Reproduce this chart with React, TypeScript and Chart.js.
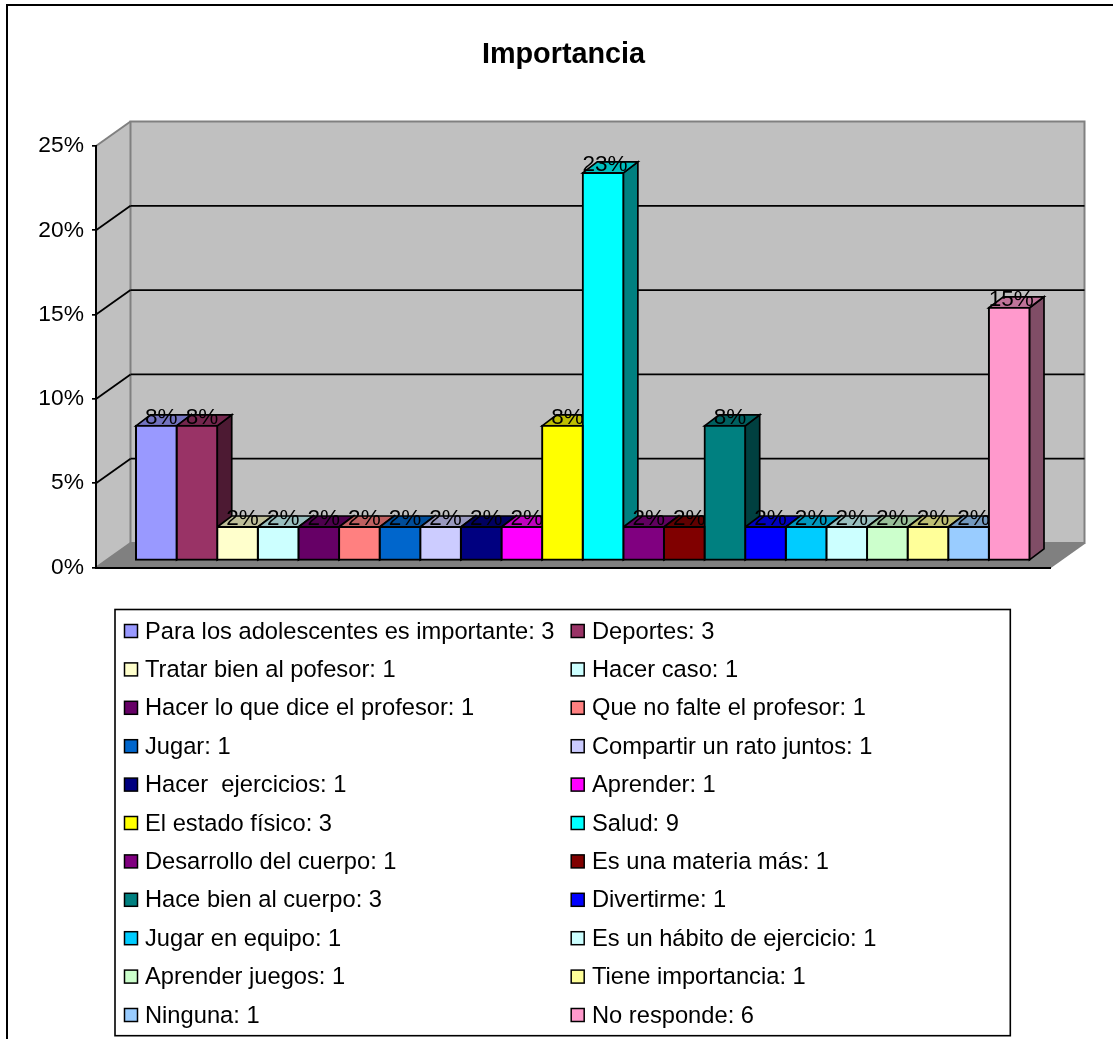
import React, { useEffect, useRef } from "react";
import { Chart, registerables } from "chart.js";

Chart.register(...registerables);

const chartTitle = "Importancia";
const category = ["Importancia"];
const seriesNames = [
  "Para los adolescentes es importante", "Deportes", "Tratar bien al pofesor", "Hacer caso",
  "Hacer lo que dice el profesor", "Que no falte el profesor", "Jugar", "Compartir un rato juntos",
  "Hacer  ejercicios", "Aprender", "El estado físico", "Salud",
  "Desarrollo del cuerpo", "Es una materia más", "Hace bien al cuerpo", "Divertirme",
  "Jugar en equipo", "Es un hábito de ejercicio", "Aprender juegos", "Tiene importancia",
  "Ninguna", "No responde",
];
const seriesCounts = [3, 3, 1, 1, 1, 1, 1, 1, 1, 1, 3, 9, 1, 1, 3, 1, 1, 1, 1, 1, 1, 6];
const seriesPercents = [8, 8, 2, 2, 2, 2, 2, 2, 2, 2, 8, 23, 2, 2, 8, 2, 2, 2, 2, 2, 2, 15];
const seriesColors = [
  "#9999FF", "#993366", "#FFFFCC", "#CCFFFF", "#660066", "#FF8080", "#0066CC", "#CCCCFF",
  "#000080", "#FF00FF", "#FFFF00", "#00FFFF", "#800080", "#800000", "#008080", "#0000FF",
  "#00CCFF", "#CCFFFF", "#CCFFCC", "#FFFF99", "#99CCFF", "#FF99CC",
];

const FONT = '"Liberation Sans", Arial, sans-serif';
const WALL_DX = 34.5;
const WALL_DY = -24.5;
const BAR_DX = 14.5;
const BAR_DY = -11;
const FRONT_DX = 9.75;
const FRONT_DY = -6.8;
const SLOT = 893.5 / 22;

function shade(hex: string, k: number) {
  const n = parseInt(hex.slice(1), 16);
  const r = Math.round(((n >> 16) & 255) * k);
  const g = Math.round(((n >> 8) & 255) * k);
  const b = Math.round((n & 255) * k);
  return `rgb(${r},${g},${b})`;
}

function poly(ctx: CanvasRenderingContext2D, pts: number[][], fill: string | null, stroke: string | null, lw = 1.7) {
  ctx.beginPath();
  pts.forEach((p, i) => (i ? ctx.lineTo(p[0], p[1]) : ctx.moveTo(p[0], p[1])));
  ctx.closePath();
  if (fill) {
    ctx.fillStyle = fill;
    ctx.fill();
  }
  if (stroke) {
    ctx.strokeStyle = stroke;
    ctx.lineWidth = lw;
    ctx.lineJoin = "miter";
    ctx.stroke();
  }
}

function line(ctx: CanvasRenderingContext2D, x1: number, y1: number, x2: number, y2: number, color: string, lw: number) {
  ctx.beginPath();
  ctx.moveTo(x1, y1);
  ctx.lineTo(x2, y2);
  ctx.strokeStyle = color;
  ctx.lineWidth = lw;
  ctx.stroke();
}

const scenePlugin = {
  id: "scene3d",
  beforeDraw(chart: any) {
    const { ctx, chartArea: a, scales } = chart;
    const W = chart.width;
    const H = chart.height;
    ctx.save();
    ctx.fillStyle = "#fff";
    ctx.fillRect(0, 0, W, H);

    // outer frame: only its left and top edges fall inside the picture
    ctx.beginPath();
    ctx.moveTo(7, H);
    ctx.lineTo(7, 5);
    ctx.lineTo(W, 5);
    ctx.strokeStyle = "#000";
    ctx.lineWidth = 2;
    ctx.stroke();

    const l = a.left, r = a.right, t = a.top, b = a.bottom;
    // floor
    poly(ctx, [[l, b], [l + WALL_DX, b + WALL_DY], [r + WALL_DX, b + WALL_DY], [r, b]], "#808080", null);
    // side wall
    poly(ctx, [[l, t], [l + WALL_DX, t + WALL_DY], [l + WALL_DX, b + WALL_DY], [l, b]], "#C0C0C0", null);
    // back wall
    poly(ctx, [[l + WALL_DX, t + WALL_DY], [r + WALL_DX, t + WALL_DY], [r + WALL_DX, b + WALL_DY], [l + WALL_DX, b + WALL_DY]], "#C0C0C0", "#808080", 2);
    line(ctx, l, t, l + WALL_DX, t + WALL_DY, "#808080", 2);
    line(ctx, l, b, l + WALL_DX, b + WALL_DY, "#808080", 2);
    line(ctx, r, b, r + WALL_DX, b + WALL_DY, "#808080", 2);

    // grid lines on the walls
    scales.y.ticks.forEach((tick: any) => {
      if (tick.value === 0 || tick.value === 25) return;
      const y = scales.y.getPixelForValue(tick.value);
      line(ctx, l, y, l + WALL_DX, y + WALL_DY, "#000", 1.8);
      line(ctx, l + WALL_DX, y + WALL_DY, r + WALL_DX, y + WALL_DY, "#000", 1.8);
    });
    ctx.restore();
  },
  beforeDatasetsDraw(chart: any) {
    const { ctx } = chart;
    ctx.save();
    chart.data.datasets.forEach((ds: any, i: number) => {
      const el = chart.getDatasetMeta(i).data[0];
      const x0 = el.x - SLOT / 2 + FRONT_DX;
      const x1 = el.x + SLOT / 2 + FRONT_DX;
      const top = el.y + FRONT_DY;
      const base = el.base + FRONT_DY;
      poly(ctx, [[x1, top], [x1 + BAR_DX, top + BAR_DY], [x1 + BAR_DX, base + BAR_DY], [x1, base]], shade(ds.backgroundColor, 0.5), "#000");
      poly(ctx, [[x0, top], [x0 + BAR_DX, top + BAR_DY], [x1 + BAR_DX, top + BAR_DY], [x1, top]], shade(ds.backgroundColor, 0.75), "#000");
    });
    ctx.restore();
    // the fronts are drawn by Chart.js itself, moved onto the middle of the floor's depth
    ctx.save();
    ctx.translate(FRONT_DX, FRONT_DY);
  },
  afterDatasetsDraw(chart: any) {
    const { ctx } = chart;
    ctx.restore();
    ctx.save();

    // value labels
    ctx.font = `22.5px ${FONT}`;
    ctx.fillStyle = "#000";
    ctx.textAlign = "center";
    ctx.textBaseline = "alphabetic";
    chart.data.datasets.forEach((ds: any, i: number) => {
      const el = chart.getDatasetMeta(i).data[0];
      const text = `${ds.data[0]}%`;
      const shift = text.length > 2 ? 2 : 5;
      ctx.fillText(text, el.x + FRONT_DX + shift, el.y + FRONT_DY - 1.5);
    });

    // legend box, two columns
    const boxL = 115, boxT = 609.5, boxR = 1010.3, boxB = 1035.7;
    ctx.fillStyle = "#fff";
    ctx.fillRect(boxL, boxT, boxR - boxL, boxB - boxT);
    ctx.strokeStyle = "#000";
    ctx.lineWidth = 1.6;
    ctx.strokeRect(boxL, boxT, boxR - boxL, boxB - boxT);
    ctx.textAlign = "left";
    ctx.textBaseline = "middle";
    ctx.font = `23.7px ${FONT}`;
    const names: string[] = chart.data.datasets.map((d: any) => d.label);
    names.forEach((name, i) => {
      const col = i % 2;
      const row = Math.floor(i / 2);
      const y = 631 + row * 38.4;
      const sx = col ? 571.2 : 124.5;
      ctx.fillStyle = chart.data.datasets[i].backgroundColor;
      ctx.fillRect(sx, y - 6.5, 13, 13);
      ctx.lineWidth = 1.5;
      ctx.strokeStyle = "#000";
      ctx.strokeRect(sx, y - 6.5, 13, 13);
      ctx.fillStyle = "#000";
      ctx.fillText(`${name}: ${seriesCounts[i]}`, col ? 592 : 145, y + 1);
    });
    ctx.restore();
  },
};

export default function App() {
  const ref = useRef<HTMLCanvasElement>(null);

  useEffect(() => {
    if (!ref.current) return;
    const chart = new Chart(ref.current, {
      type: "bar",
      data: {
        labels: category,
        datasets: seriesNames.map((name, i) => ({
          label: name,
          data: [seriesPercents[i]],
          backgroundColor: seriesColors[i],
          borderColor: "#000",
          borderWidth: 2,
          borderSkipped: false,
          inflateAmount: 1,
          barPercentage: 1,
          categoryPercentage: 893.5 / 954,
          clip: false,
          yAxisID: "y",
        })),
      },
      options: {
        responsive: false,
        animation: false,
        layout: { padding: { left: 14, top: 0, right: 0, bottom: 471.5 } },
        plugins: {
          legend: { display: false },
          tooltip: { enabled: false },
          title: {
            display: true,
            text: chartTitle,
            color: "#000",
            font: { family: FONT, size: 28.8, weight: "bold", lineHeight: 1.2 },
            padding: { top: 37.5, bottom: 73.94 },
          },
        },
        scales: {
          x: {
            grid: { display: false },
            border: { display: true, color: "#000", width: 2 },
            ticks: { display: false },
            afterFit: (s: any) => { s.height = 0; },
          },
          y: {
            min: 0,
            max: 25,
            ticks: {
              stepSize: 5,
              color: "#000",
              padding: 8,
              font: { family: FONT, size: 22.8 },
              callback: (v: any) => `${v}%`,
            },
            grid: { drawOnChartArea: false, drawTicks: true, tickLength: 4, color: "#000", lineWidth: 1.7 },
            border: { display: true, color: "#000", width: 2 },
            afterFit: (s: any) => { s.width = 82; },
          },
          // empty axis that only keeps the room to the right of the plot
          spacer: {
            position: "right",
            min: 0,
            max: 25,
            grid: { display: false },
            border: { display: false },
            ticks: { display: false },
            afterFit: (s: any) => { s.width = 63; },
          },
        },
      },
      plugins: [scenePlugin],
    } as any);
    return () => chart.destroy();
  }, []);

  return (
    <div style={{ position: "absolute", left: 0, top: 0, width: 1113, height: 1039, overflow: "hidden" }}>
      <canvas ref={ref} width={1113} height={1039} style={{ display: "block" }} />
    </div>
  );
}
